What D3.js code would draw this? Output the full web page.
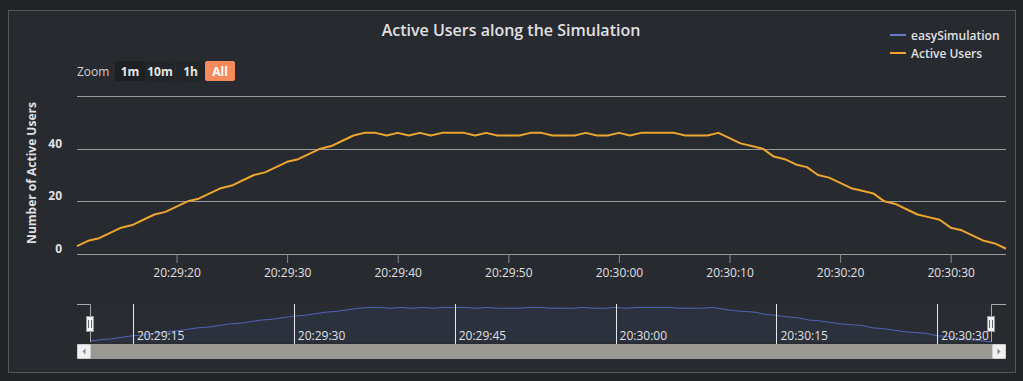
<!DOCTYPE html>
<html>
<head>
<meta charset="utf-8">
<script src="https://cdn.jsdelivr.net/npm/d3@7"></script>
<style>
html,body{margin:0;padding:0;background:#212427;}
svg{display:block;font-family:"Open Sans",sans-serif;}
</style>
</head>
<body>
<svg id="chart" width="1023" height="381"></svg>
<script>
// ---- data ----
const startTime = new Date(2021, 0, 1, 20, 29, 11);
const endTime = new Date(2021, 0, 1, 20, 30, 36);
const times = d3.timeSecond.range(startTime, endTime); // one sample per second
const activeUsers = [
  3,5,6,8,10,11,13,15,16,18,20,21,23,25,26,28,30,31,33,35,36,38,40,41,43,45,46,46,
  45,46,45,46,45,46,46,46,45,46,45,45,45,46,46,45,45,45,46,45,45,46,45,46,46,46,46,45,45,45,
  46,
  44,42,41,40,37,36,34,33,30,29,27,25,24,23,20,19,17,15,14,13,10,9,7,5,4,2
];
const navigatorSeries = activeUsers; // easySimulation series shown in navigator
const seriesNames = ["easySimulation", "Active Users"];
const seriesColors = ["#6679cf", "#eea52e"];
const yTicks = [0, 20, 40, 60];
const yLabelTicks = [0, 20, 40];
const zoomButtons = ["1m", "10m", "1h", "All"];
const titleText = "Active Users along the Simulation";
const yTitle = "Number of Active Users";

const data = times.map((t, i) => ({t, v: activeUsers[i]}));
const navData = times.map((t, i) => ({t, v: navigatorSeries[i]}));

const svg = d3.select("#chart");
const textCol = "#e0e0e3";

// panel
svg.append("rect").attr("x", 0).attr("y", 0).attr("width", 1023).attr("height", 381).attr("fill", "#212427");
svg.append("rect").attr("x", 8.5).attr("y", 10.5).attr("width", 1007).attr("height", 362)
  .attr("fill", "#272a2e").attr("stroke", "#55585c").attr("stroke-width", 1);

// title
svg.append("text").attr("x", 511).attr("y", 36).attr("text-anchor", "middle")
  .attr("fill", textCol).attr("font-size", 16).attr("font-weight", 600).text(titleText);

// legend
const legend = svg.append("g");
seriesNames.forEach((n, i) => {
  const y = 35 + i * 18;
  legend.append("line").attr("x1", 890).attr("x2", 906).attr("y1", y).attr("y2", y)
    .attr("stroke", seriesColors[i]).attr("stroke-width", 2);
  legend.append("text").attr("x", 911).attr("y", y + 4.5).attr("fill", textCol)
    .attr("font-size", 12).attr("font-weight", 600).text(n);
});

// zoom buttons
svg.append("text").attr("x", 77).attr("y", 76).attr("fill", "#cfcfd2").attr("font-size", 12).text("Zoom");
const btnX = [115, 145, 176, 205];
const btnW = [30, 30, 29, 30];
zoomButtons.forEach((b, i) => {
  const sel = b === "All";
  svg.append("rect").attr("x", btnX[i]).attr("y", 61).attr("width", btnW[i]).attr("height", 20).attr("rx", 2)
    .attr("fill", sel ? "#f58a5b" : (i === 0 ? "#1d2023" : "#232629"));
  svg.append("text").attr("x", btnX[i] + btnW[i] / 2).attr("y", 76).attr("text-anchor", "middle")
    .attr("fill", sel ? "#ffffff" : "#e6e6e8").attr("font-size", 12).attr("font-weight", 700).text(b);
});

// main scales
const x = d3.scaleTime().domain([times[0], times[times.length - 1]]).range([77, 1006]);
const y = d3.scaleLinear().domain([0, 60]).range([254, 96]);

// grid
svg.append("g").selectAll("line").data(yTicks).join("line")
  .attr("x1", 77).attr("x2", 1006).attr("y1", d => Math.round(y(d)) + 0.5).attr("y2", d => Math.round(y(d)) + 0.5)
  .attr("stroke", "#9a9a9c").attr("stroke-width", 1);

// y labels
svg.append("g").selectAll("text").data(yLabelTicks).join("text")
  .attr("x", 62).attr("y", d => y(d) - 1).attr("text-anchor", "end")
  .attr("fill", textCol).attr("font-size", 12).attr("font-weight", 700).text(d => d);

// y title
svg.append("text").attr("transform", "translate(36,173) rotate(-90)").attr("text-anchor", "middle")
  .attr("fill", textCol).attr("font-size", 12).attr("font-weight", 700).text(yTitle);

// x axis
const fmt = d3.timeFormat("%H:%M:%S");
const xAxis = d3.axisBottom(x).ticks(d3.timeSecond.every(10)).tickFormat(fmt).tickSizeOuter(0).tickSize(9).tickPadding(5);
const gx = svg.append("g").attr("transform", "translate(0,254)").call(xAxis);
gx.select(".domain").remove();
gx.selectAll(".tick line").attr("stroke", "#8a8a8c");
gx.selectAll(".tick text").attr("fill", textCol).attr("font-size", 12).attr("font-family", "Open Sans, sans-serif");

// main line
svg.append("path").datum(data)
  .attr("fill", "none").attr("stroke", seriesColors[1]).attr("stroke-width", 2).attr("stroke-linejoin", "round")
  .attr("d", d3.line().x(d => x(d.t)).y(d => y(d.v)));

// navigator
const nx = d3.scaleTime().domain([times[0], times[times.length - 1]]).range([90, 991]);
const ny = d3.scaleLinear().domain([2, 50.4]).range([342, 304]);
svg.append("rect").attr("x", 90).attr("y", 304).attr("width", 901).attr("height", 40).attr("fill", "rgba(102,133,194,0.035)");
svg.append("path").datum(navData).attr("fill", "rgba(90,105,190,0.08)")
  .attr("d", d3.area().x(d => nx(d.t)).y0(342).y1(d => ny(d.v)));
svg.append("path").datum(navData).attr("fill", "none").attr("stroke", "#5363b8").attr("stroke-width", 1)
  .attr("d", d3.line().x(d => nx(d.t)).y(d => ny(d.v)));

const navTicks = nx.ticks(d3.timeSecond.every(15));
svg.append("g").selectAll("line").data(navTicks).join("line")
  .attr("x1", d => Math.round(nx(d)) + 0.5).attr("x2", d => Math.round(nx(d)) + 0.5)
  .attr("y1", 304).attr("y2", 344).attr("stroke", "#e8e8ea").attr("stroke-width", 1);
svg.append("g").selectAll("text").data(navTicks).join("text")
  .attr("x", d => nx(d) + 4).attr("y", 340).attr("fill", textCol).attr("font-size", 12).text(fmt);

// outline
svg.append("path").attr("d", "M77,304.5H90.5V342M991.5,342V304.5H1006")
  .attr("fill", "none").attr("stroke", "#a8a8aa").attr("stroke-width", 1);

// scrollbar
svg.append("rect").attr("x", 77).attr("y", 344).attr("width", 929).attr("height", 15).attr("fill", "#9a9893");
[[77, "L"], [992, "R"]].forEach(([bx, dir]) => {
  svg.append("rect").attr("x", bx + 0.5).attr("y", 344.5).attr("width", 13).attr("height", 14).attr("rx", 1)
    .attr("fill", "#f0f0f0").attr("stroke", "#cfcfcf");
  const cx = bx + 7, cy = 351.5;
  svg.append("path").attr("d", dir === "L" ? `M${cx + 1.5},${cy - 3}L${cx - 1.5},${cy}L${cx + 1.5},${cy + 3}Z` : `M${cx - 1.5},${cy - 3}L${cx + 1.5},${cy}L${cx - 1.5},${cy + 3}Z`)
    .attr("fill", "#888");
});

// handles
[90, 991].forEach(hx => {
  svg.append("rect").attr("x", hx - 3.5).attr("y", 316.5).attr("width", 7).attr("height", 15)
    .attr("fill", "#f2f2f2").attr("stroke", "#999").attr("stroke-width", 1);
  svg.append("path").attr("d", `M${hx - 1.5},320V328M${hx + 1.5},320V328`).attr("stroke", "#666").attr("stroke-width", 1);
});
</script>
</body>
</html>
